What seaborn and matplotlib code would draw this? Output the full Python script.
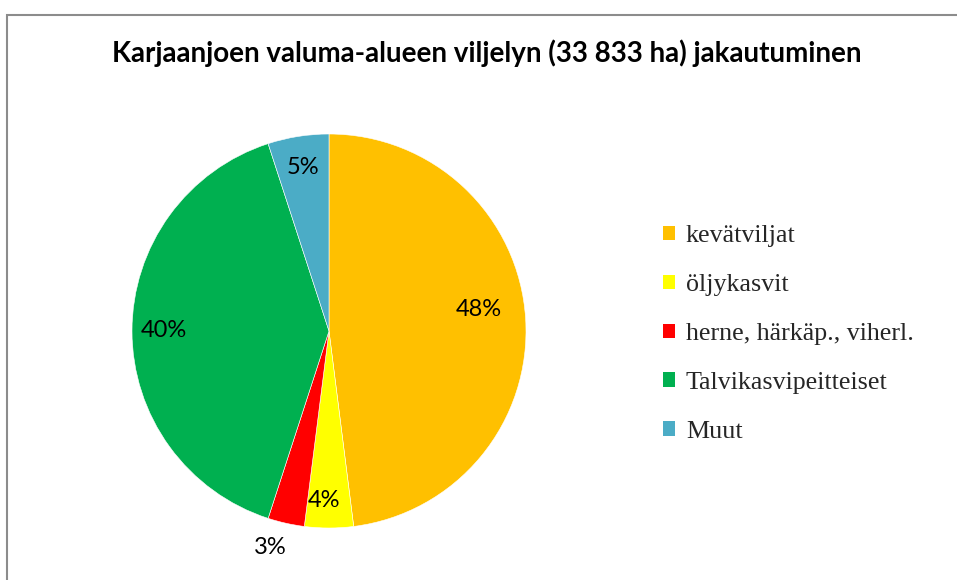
import numpy as np
import matplotlib
matplotlib.use('Agg')
import matplotlib.pyplot as plt
import matplotlib.patches as mpatches
import seaborn as sns

# --- data ---
categories = ['kevätviljat', 'öljykasvit', 'herne, härkäp., viherl.',
              'Talvikasvipeitteiset', 'Muut']
shares = [48, 4, 3, 40, 5]
colors = ['#FFC000', '#FFFF00', '#FF0000', '#00B050', '#4BACC6']
title = 'Karjaanjoen valuma-alueen viljelyn (33 833 ha) jakautuminen'

# label placement per slice (Excel "best fit"): radial distance, angle nudge (deg)
label_dist = [0.77, 0.86, 1.14, 0.84, 0.84]
label_nudge = [4.4, -1.7, -2.6, 0, 0]

sns.set_theme(style='white')
plt.rcParams['font.family'] = ['Lato', 'DejaVu Sans']

W, H = 957, 580
fig = plt.figure(figsize=(W / 100, H / 100), dpi=100)

# chart frame (grey line at top and left)
frame = mpatches.Rectangle((7.5 / W, -0.1), 1.2, 1 - 14.5 / H + 0.1,
                           transform=fig.transFigure, fill=False,
                           edgecolor='#8c8c8c', lw=1.5)
fig.patches.append(frame)

fig.text(487 / W, 1 - 53 / H, title, ha='center', va='center',
         fontsize=20, fontweight='bold', color='black')

# pie axes: center (329, 331) px, radius 197 px
cx, cy, r = 329, 331, 197
ax = fig.add_axes([(cx - r) / W, (H - cy - r) / H, 2 * r / W, 2 * r / H])
wedges, _ = ax.pie(shares, colors=colors, startangle=90, counterclock=False,
                   radius=1, wedgeprops=dict(edgecolor='white', linewidth=0.4))
ax.set_xlim(-1, 1)
ax.set_ylim(-1, 1)
ax.set_aspect('equal')
ax.axis('off')

for w, d, n, v in zip(wedges, label_dist, label_nudge, shares):
    ang = np.deg2rad((w.theta1 + w.theta2) / 2 + n)
    ax.text(d * np.cos(ang), d * np.sin(ang), f'{v}%', ha='center', va='center',
            fontsize=17, color='black', clip_on=False)

handles = [mpatches.Patch(facecolor=c, edgecolor='none') for c in colors]
leg = fig.legend(handles, categories, loc='center left',
                 bbox_to_anchor=(663 / W, 1 - 334 / H), frameon=False,
                 prop={'family': 'Liberation Serif', 'size': 18.7},
                 handlelength=0.48, handleheight=0.48, handletextpad=0.4,
                 labelspacing=1.03, borderaxespad=0, borderpad=0)

fig.savefig('out.png', dpi=100)
